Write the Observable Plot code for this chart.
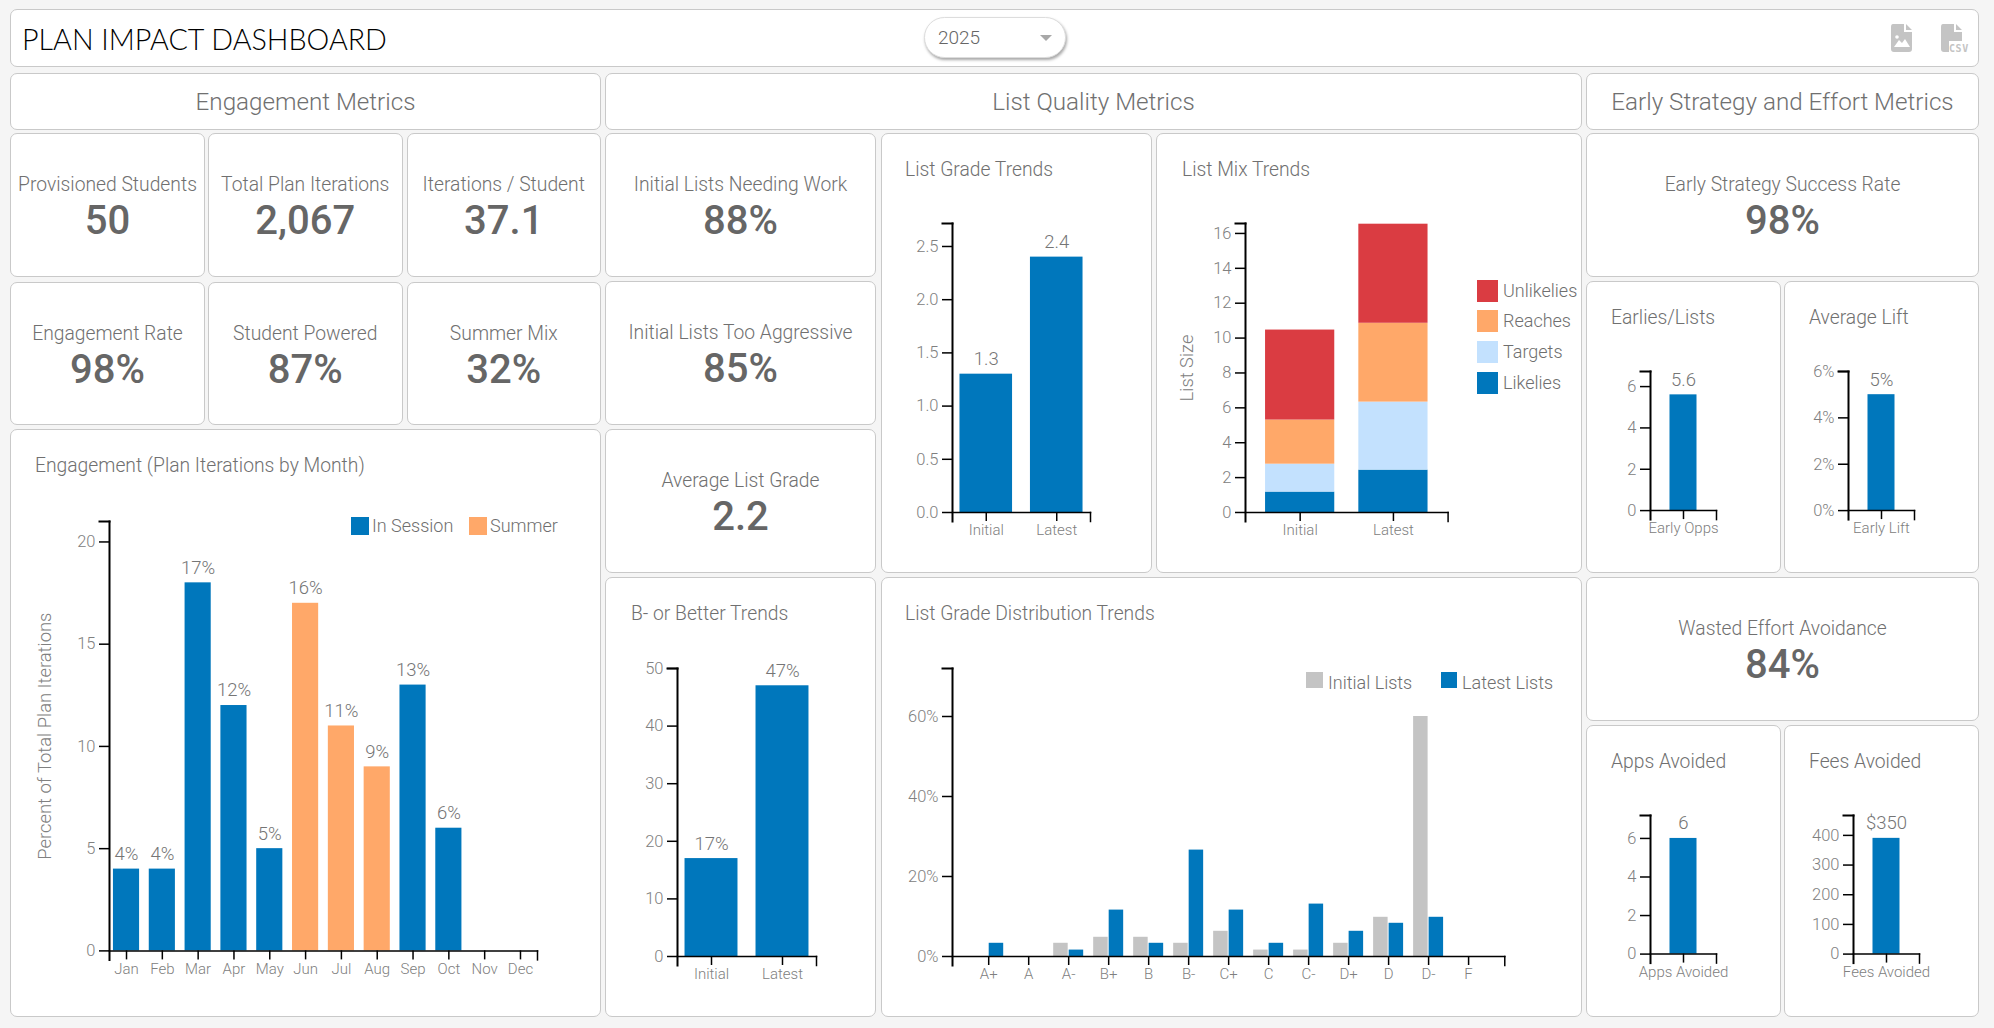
<!DOCTYPE html>
<html><head><meta charset="utf-8">
<script src="https://cdn.jsdelivr.net/npm/d3@7"></script>
<script src="https://cdn.jsdelivr.net/npm/@observablehq/plot@0.6"></script>
<style>
html,body{margin:0;padding:0;background:#f5f5f5;}
body{width:1994px;height:1028px;position:relative;overflow:hidden;font-family:Roboto,sans-serif;}
.panel{position:absolute;box-sizing:border-box;background:#fff;border:1.5px solid #c9c9c9;border-radius:7px;}
.t{position:absolute;white-space:nowrap;line-height:1;}
.chart{position:absolute;}
.chart svg{display:block;background:transparent;overflow:visible;}
.sw{position:absolute;}
</style></head><body>
<script>
// ---------- data ----------
const months = ["Jan","Feb","Mar","Apr","May","Jun","Jul","Aug","Sep","Oct","Nov","Dec"];
const iterationBars = [4,4,18,12,5,17,11,9,13,6,0,0];
const iterationLabels = ["4%","4%","17%","12%","5%","16%","11%","9%","13%","6%","",""];
const monthSeason = ["In Session","In Session","In Session","In Session","In Session","Summer","Summer","Summer","In Session","In Session","In Session","In Session"];
const trendLists = ["Initial","Latest"];
const gradeTrend = [1.3,2.4];
const gradeTrendLabels = ["1.3","2.4"];
const betterTrend = [17,47];
const betterTrendLabels = ["17%","47%"];
const mixTypes = ["Likelies","Targets","Reaches","Unlikelies"];
const mixInitial = [1.17,1.6,2.53,5.16];
const mixLatest = [2.43,3.9,4.52,5.68];
const grades = ["A+","A","A-","B+","B","B-","C+","C","C-","D+","D","D-","F"];
const initialDist = [0,0,3.3,4.8,4.8,3.3,6.3,1.6,1.6,3.3,9.8,60,0];
const latestDist = [3.3,0,1.6,11.6,3.3,26.6,11.6,3.3,13.1,6.3,8.3,9.8,0];
const blue="#0077bc", orange="#ffa869", lightBlue="#c3e1fe", red="#da3c42", grey="#c4c4c4";
const tickInk="#808080", titleInk="#707070", valueInk="#666666";

const tiles = [
 ["Provisioned Students","50",10,133,205,277],["Total Plan Iterations","2,067",208,133,402.5,277],["Iterations / Student","37.1",406.5,133,601,277],
 ["Engagement Rate","98%",10,282,205,425],["Student Powered","87%",208,282,402.5,425],["Summer Mix","32%",406.5,282,601,425],
 ["Initial Lists Needing Work","88%",605,133,876,277],["Initial Lists Too Aggressive","85%",605,281,876,425],["Average List Grade","2.2",605,429,876,573],
 ["Early Strategy Success Rate","98%",1586,133,1979,277],["Wasted Effort Avoidance","84%",1586,577,1979,721]
];
const headers = [["Engagement Metrics",10,601],["List Quality Metrics",605,1582],["Early Strategy and Effort Metrics",1586,1979]];
const cards = [
 ["Engagement (Plan Iterations by Month)",10,429,601,1017,35,466],
 ["List Grade Trends",881,133,1152,573,905,170],
 ["List Mix Trends",1156,133,1582,573,1182,170],
 ["B- or Better Trends",605,577,876,1017,631,614],
 ["List Grade Distribution Trends",881,577,1582,1017,905,614],
 ["Earlies/Lists",1586,281,1781,573,1611,318],
 ["Average Lift",1784,281,1979,573,1809,318],
 ["Apps Avoided",1586,725,1781,1017,1611,762],
 ["Fees Avoided",1784,725,1979,1017,1809,762]
];

// ---------- helpers ----------
const body=document.body;
function el(cls,css,html){const d=document.createElement("div");d.className=cls;d.style.cssText=css;if(html!=null)d.innerHTML=html;body.appendChild(d);return d;}
function panel(x0,y0,x1,y1){return el("panel",`left:${x0}px;top:${y0}px;width:${x1-x0}px;height:${y1-y0}px`);}
function center(s,x,y,css){return el("t",`left:${x}px;top:${y}px;transform:translate(-50%,-50%);${css}`,s);}
function left(s,x,y,css){return el("t",`left:${x}px;top:${y}px;transform:translateY(-50%);${css}`,s);}
function swatch(x,y,w,h,c){return el("sw",`left:${x}px;top:${y}px;width:${w}px;height:${h}px;background:${c}`);}

const labelCss=`font-weight:300;font-size:19.3px;color:${titleInk};`;
const valueCss=`font-weight:500;font-size:40px;color:${valueInk};`;
const legendCss=`font-weight:300;font-size:18px;color:#6f6f6f;`;

// top bar
panel(10,9,1979,67);
left("PLAN IMPACT DASHBOARD",22,39,"font-family:Lato;font-weight:300;font-size:28.7px;color:#000;");
el("","position:absolute;box-sizing:border-box;left:924px;top:17px;width:142px;height:41px;background:#fff;border:1px solid #ddd;border-radius:21px;box-shadow:1px 2px 3px rgba(0,0,0,.35)");
left("2025",938,37,"font-weight:300;font-size:19px;color:#666;");
el("","position:absolute;left:1040px;top:35px;width:0;height:0;border-left:6px solid transparent;border-right:6px solid transparent;border-top:6px solid #a8a8a8");
el("","position:absolute;left:1890px;top:23px;width:24px;height:30px",`<svg width="24" height="30" viewBox="0 0 24 30"><path fill="${grey}" d="M3 1H14V9H22V26Q22 29 19 29H4Q1 29 1 26V4Q1 1 3 1ZM16 1L22 7H16Z"/><path fill="#fff" d="M4 24L9 17L12 20L15 16L20 24Z"/><circle cx="7" cy="14" r="1.8" fill="#fff"/></svg>`);
el("","position:absolute;left:1940px;top:23px;width:32px;height:30px",`<svg width="32" height="30" viewBox="0 0 32 30"><path fill="${grey}" d="M3 1H14V9H22V18H9V29H4Q1 29 1 26V4Q1 1 3 1ZM16 1L22 7H16Z"/><text x="9" y="28.5" font-family="DejaVu Sans Mono" font-weight="700" font-size="10" letter-spacing=".6" fill="${grey}">CSV</text></svg>`);

// headers, tiles, cards
for(const [s,a,b] of headers){panel(a,73,b,129.5);center(s,(a+b)/2,102,`font-weight:300;font-size:24.2px;color:${titleInk};`);}
for(const [l,v,a,t,b,u] of tiles){panel(a,t,b,u);center(l,(a+b)/2,t+52,labelCss);center(v,(a+b)/2,t+87.5,valueCss);}
for(const [s,a,t,b,u,tx,ty] of cards){panel(a,t,b,u);left(s,tx,ty,labelCss);}

// ---------- chart builder ----------
const mL=90,mR=12,mT=14,mB=34;
function chart({x0,x1,y0,yt,xScale,yDomain,yTicks,yFormat=String,marks,yTitle,titleX,color}){
  const w=x1-x0+mL+mR,h=y0-yt+mT+mB,ph=y0-yt,pw=x1-x0;
  const extra=yTitle?[Plot.text([yTitle],{frameAnchor:"left",rotate:-90,textAnchor:"middle",dx:titleX-x0,fontSize:18.4,fill:tickInk})]:[];
  const p=Plot.plot({
    width:w,height:h,marginLeft:mL,marginRight:mR,marginTop:mT,marginBottom:mB,
    style:{fontFamily:"Roboto",fontWeight:300,fontSize:"16.5px",background:"transparent",color:tickInk,overflow:"visible"},
    x:Object.assign({round:false},xScale),
    y:{domain:yDomain},
    color,
    marks:[
      ...marks,
      Plot.axisY({ticks:yTicks,tickFormat:yFormat,tickSize:10,tickPadding:4,label:null,stroke:"#000",strokeWidth:1.5,fill:tickInk}),
      Plot.axisX({tickSize:9,tickPadding:3,label:null,stroke:"#000",strokeWidth:1.5,fill:tickInk,fontSize:15}),
      Plot.frame({anchor:"left",insetBottom:-9,stroke:"#000",strokeWidth:2}),
      Plot.frame({anchor:"bottom",stroke:"#000",strokeWidth:1.5}),
      Plot.frame({anchor:"top",insetLeft:-10,insetRight:pw,stroke:"#000",strokeWidth:2}),
      Plot.frame({anchor:"right",insetTop:ph,insetBottom:-9,stroke:"#000",strokeWidth:1.5}),
      ...extra
    ]
  });
  const d=el("chart",`left:${x0-mL-0.5}px;top:${yt-mT-0.8}px;width:${w}px;height:${h}px`);
  d.appendChild(p);
}
const barLabel=(rows,x,y,t)=>Plot.text(rows,{x,y,text:t,dy:-15,fontSize:18.5,fill:"#757575"});

// Engagement
const monthRows=months.map((m,i)=>({m,v:iterationBars[i],t:iterationLabels[i],s:monthSeason[i]}));
chart({x0:109.5,x1:537.5,y0:951,yt:521.6,
  xScale:{domain:months,paddingInner:.27,paddingOuter:.11},yDomain:[0,21],yTicks:[0,5,10,15,20],
  yTitle:"Percent of Total Plan Iterations",titleX:45,
  color:{domain:["In Session","Summer"],range:[blue,orange]},
  marks:[Plot.barY(monthRows,{x:"m",y:"v",fill:"s"}),barLabel(monthRows,"m","v","t")]});
swatch(351,517,18,18,blue);left("In Session",372,526,legendCss);
swatch(469,517,18,18,orange);left("Summer",490,526,legendCss);

// List grade trends
const gradeRows=trendLists.map((l,i)=>({l,v:gradeTrend[i],t:gradeTrendLabels[i]}));
chart({x0:952,x1:1090,y0:513,yt:224,
  xScale:{domain:trendLists,paddingInner:.254,paddingOuter:.106},yDomain:[0,2.716],yTicks:[0,.5,1,1.5,2,2.5],yFormat:d3.format(".1f"),
  marks:[Plot.barY(gradeRows,{x:"l",y:"v",fill:blue}),barLabel(gradeRows,"l","v","t")]});

// List mix
const mixRows=mixTypes.flatMap((k,i)=>[{l:trendLists[0],k,v:mixInitial[i]},{l:trendLists[1],k,v:mixLatest[i]}]);
chart({x0:1245,x1:1447.6,y0:513,yt:224,
  xScale:{domain:trendLists,paddingInner:.258,paddingOuter:.215},yDomain:[0,16.57],yTicks:[0,2,4,6,8,10,12,14,16],
  yTitle:"List Size",titleX:1187,
  color:{domain:mixTypes,range:[blue,lightBlue,orange,red]},
  marks:[Plot.barY(mixRows,{x:"l",y:"v",fill:"k"})]});
[["Unlikelies",red,280],["Reaches",orange,310],["Targets",lightBlue,341],["Likelies",blue,372]].forEach(([s,c,y])=>{
  swatch(1477,y,21,22,c);left(s,1503,y+11,legendCss);});

// B- or better
const betterRows=trendLists.map((l,i)=>({l,v:betterTrend[i],t:betterTrendLabels[i]}));
chart({x0:677.5,x1:816.5,y0:957,yt:669,
  xScale:{domain:trendLists,paddingInner:.254,paddingOuter:.106},yDomain:[0,50],yTicks:[0,10,20,30,40,50],
  marks:[Plot.barY(betterRows,{x:"l",y:"v",fill:blue}),barLabel(betterRows,"l","v","t")]});

// Distribution
const distRows=grades.map((g,i)=>({g,a:initialDist[i],b:latestDist[i]}));
chart({x0:952.7,x1:1505,y0:957,yt:669,
  xScale:{domain:grades,paddingInner:.25,paddingOuter:.53},yDomain:[0,72],yTicks:[0,20,40,60],yFormat:d=>d+"%",
  marks:[Plot.barY(distRows,{x:"g",y:"a",fill:grey,insetRight:15.5}),Plot.barY(distRows,{x:"g",y:"b",fill:blue,insetLeft:15.5})]});
swatch(1306,672,17,16,grey);left("Initial Lists",1328,683,legendCss);
swatch(1441,672,16,16,blue);left("Latest Lists",1462,683,legendCss);

// Single-bar charts
function single(name,val,label,x0,y0,yt,top,ticks,fmt){
  const rows=[{n:name,v:val,t:label}];
  chart({x0,x1:x0+66,y0,yt,xScale:{domain:[name],paddingInner:0,paddingOuter:.722},yDomain:[0,top],yTicks:ticks,yFormat:fmt,
    marks:[Plot.barY(rows,{x:"n",y:"v",fill:blue}),barLabel(rows,"n","v","t")]});
}
const earlyOppsValue=5.6, earlyLiftValue=5, appsValue=6, feesValue=390;
single("Early Opps",earlyOppsValue,"5.6",1650,510.5,371.4,6.73,[0,2,4,6]);
single("Early Lift",earlyLiftValue,"5%",1848,510.5,371.4,6,[0,2,4,6],d=>d+"%");
single("Apps Avoided",appsValue,"6",1650,954.3,815.7,7.19,[0,2,4,6]);
single("Fees Avoided",feesValue,"$350",1853,954.3,815.7,467,[0,100,200,300,400]);
</script>
</body></html>
